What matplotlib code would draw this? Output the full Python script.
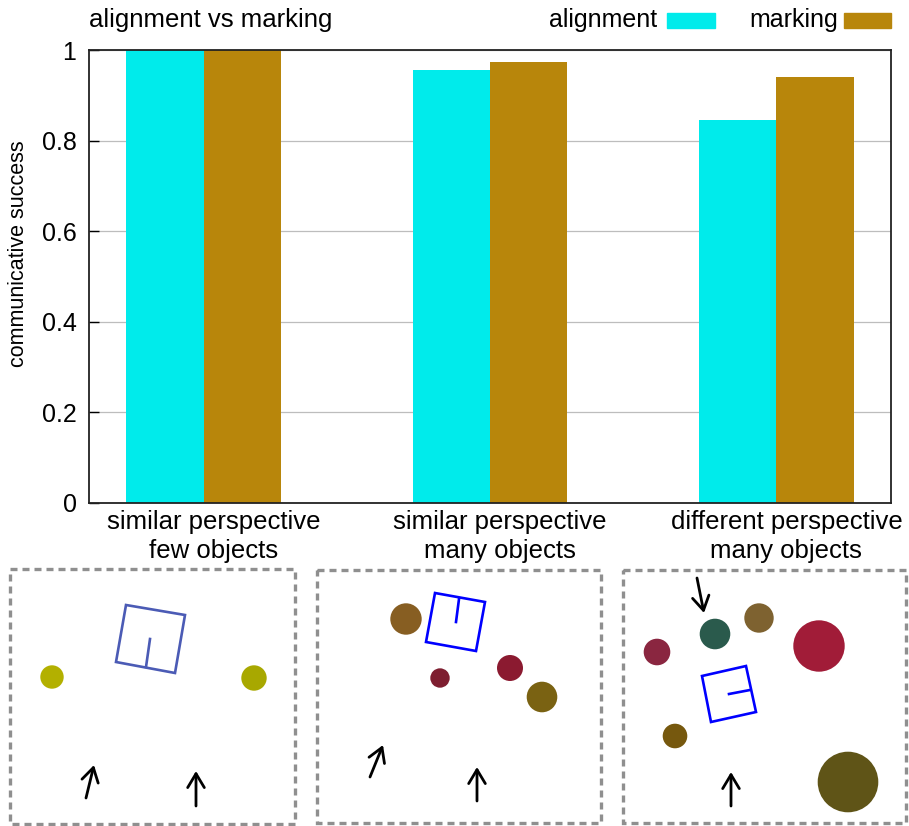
import numpy as np
import matplotlib
matplotlib.use('Agg')
import matplotlib.pyplot as plt
from matplotlib.patches import Circle, Polygon, Rectangle, FancyArrowPatch
from matplotlib.transforms import ScaledTranslation

plt.rcParams['font.family'] = ['Liberation Sans', 'DejaVu Sans']

# bar chart data
conditions = ['similar perspective\nfew objects',
              'similar perspective\nmany objects',
              'different perspective\nmany objects']
alignment = [1.0, 0.956, 0.846]
marking = [1.0, 0.974, 0.940]

# scene sketches (image pixel coordinates)
boxes = [(10, 569, 285, 255), (317, 570, 284, 253), (623, 570, 283, 253)]
squares = [
    ([(126, 605), (185, 615), (175, 673), (116, 662)], [(150, 639), (146, 667)], '#4b5bb5'),
    ([(435, 593), (485, 602), (476, 651), (426, 642)], [(459, 599), (456, 622)], '#0000ff'),
    ([(702, 676), (746, 666), (756, 712), (711, 722)], [(750, 690), (729, 694)], '#0000ff'),
]
circles = [
    (52, 677, 11.7, '#b3b000'), (254, 678, 12.7, '#a8a800'),
    (406, 619, 15.7, '#875e22'), (440, 678, 9.7, '#7e1e30'),
    (510, 668, 13.0, '#8b1a30'), (542, 697, 15.3, '#7a6212'),
    (715, 634, 15.3, '#2a5a4c'), (759, 618, 14.7, '#7e6230'),
    (657, 652, 13.3, '#8a2640'), (819, 646, 25.7, '#a11c38'),
    (675, 736, 12.3, '#76580e'), (848, 782, 30.3, '#5f5417'),
]
arrows = [
    ((86, 798), (94, 765)), ((196, 806), (196, 771)),
    ((370, 777), (383, 745)), ((477, 801), (477, 767)),
    ((697, 578), (704, 613)), ((731, 806), (731, 772)),
]

fig = plt.figure(figsize=(9.09, 8.26), dpi=100)
W, H = 909, 826

ax = fig.add_axes([89 / W, (H - 503) / H, (891 - 89) / W, (503 - 50) / H])
x = np.arange(len(conditions))
bw = 0.27
ax.bar(x - bw / 2, alignment, bw, color='#00ebeb', label='alignment', zorder=2)
ax.bar(x + bw / 2, marking, bw, color='#b8860b', label='marking', zorder=2)
ax.set_xlim(-0.4, 2.4)
ax.set_ylim(0, 1)
ax.set_yticks([0, 0.2, 0.4, 0.6, 0.8, 1])
ax.set_yticklabels(['0', '0.2', '0.4', '0.6', '0.8', '1'])
ax.set_xticks(x)
ax.set_xticklabels(conditions, linespacing=1.25)
ax.tick_params(axis='y', direction='in', length=7, width=1, labelsize=18, pad=9)
ax.tick_params(axis='x', length=0, labelsize=18.5, pad=5)
# gnuplot puts the labels a bit to the right of the group
shift = ScaledTranslation(0.1, 0, fig.dpi_scale_trans)
for lab in ax.get_xticklabels():
    lab.set_transform(lab.get_transform() + shift)
ax.yaxis.grid(True, color='#bdbdbd', lw=0.9, zorder=0)
ax.set_axisbelow(True)
for s in ax.spines.values():
    s.set_linewidth(1.3)
    s.set_color('#222222')
ax.set_ylabel('communicative success', fontsize=15.5)
ax.yaxis.set_label_coords(-0.075, 0.55)

fig.text(89 / W, 1 - 20 / H, 'alignment vs marking', fontsize=18.5, va='center', ha='left')

# legend drawn by hand, gnuplot style
ov = fig.add_axes([0, 0, 1, 1], zorder=-1)
ov.set_xlim(0, W)
ov.set_ylim(H, 0)
ov.axis('off')
ov.text(657, 20, 'alignment', fontsize=18, ha='right', va='center')
ov.add_patch(Rectangle((667, 13), 48, 15, color='#00ebeb'))
ov.text(838, 20, 'marking', fontsize=18, ha='right', va='center')
ov.add_patch(Rectangle((844, 13), 47, 15, color='#b8860b'))

for bx, by, bwid, bht in boxes:
    ov.add_patch(Rectangle((bx, by), bwid, bht, fill=False, edgecolor='#8f8f8f',
                           lw=2.4, linestyle=(0, (2.1, 1.5))))
for corners, tick, col in squares:
    ov.add_patch(Polygon(corners, closed=True, fill=False, edgecolor=col, lw=1.9))
    ov.plot([tick[0][0], tick[1][0]], [tick[0][1], tick[1][1]], color=col, lw=1.9)
for cx, cy, r, col in circles:
    ov.add_patch(Circle((cx, cy), r, color=col, lw=0))
for start, end in arrows:
    ov.add_patch(FancyArrowPatch(start, end, arrowstyle='->,head_length=0.5,head_width=0.3',
                                 mutation_scale=20, lw=2.0, color='black',
                                 shrinkA=0, shrinkB=0))

fig.savefig('out.png', dpi=100)
